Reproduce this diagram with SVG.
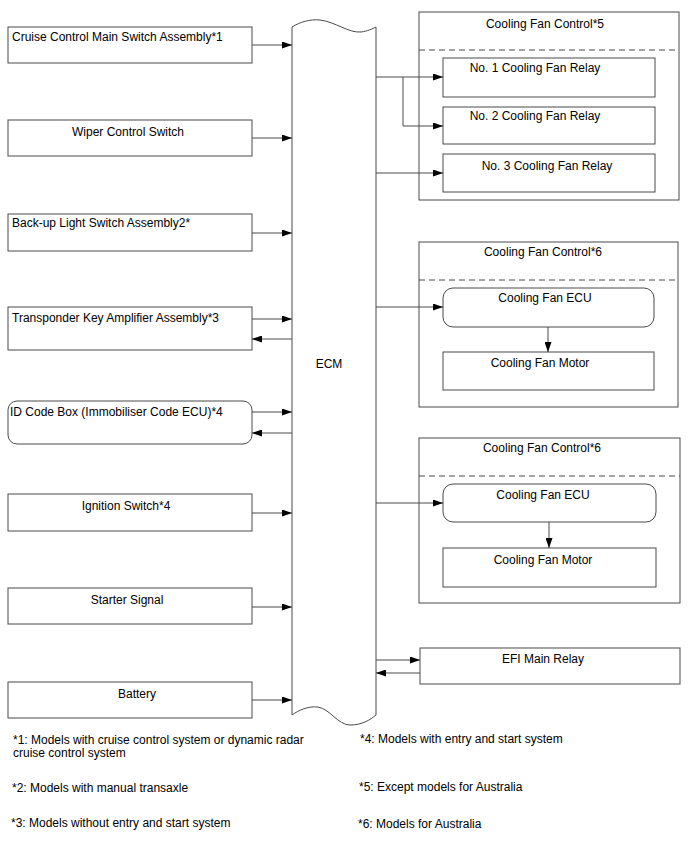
<svg xmlns="http://www.w3.org/2000/svg" width="688" height="852" viewBox="0 0 688 852">
<style>
.b{fill:#fff;stroke:#4a4a4a;stroke-width:1}
.d{fill:none;stroke:#4a4a4a;stroke-width:1;stroke-dasharray:6,4}
.l{fill:none;stroke:#4a4a4a;stroke-width:1}
.t{font-family:"Liberation Sans",Arial,sans-serif;font-size:12px;fill:#000}
.c{text-anchor:middle}
.f{font-family:"Liberation Sans",Arial,sans-serif;font-size:12px;fill:#000}
</style>
<defs>
<marker id="a" viewBox="0 0 10 8" refX="10" refY="4" markerWidth="10" markerHeight="7" markerUnits="userSpaceOnUse" orient="auto" preserveAspectRatio="none">
<path d="M0,0 L10,4 L0,8 Z" fill="#000"/>
</marker>
</defs>
<rect width="688" height="852" fill="#fff"/>

<g id="ecm">
<path class="b" d="M292,27 C300,22 310,19 320,20 C336,22 348,33 361,32 C368,31 372,29 376,27 L376,715 C370,720 362,725 350,725 C338,725 330,709 318,707 C308,706 299,710 292,715 Z"/>
<text class="t c" x="329" y="368">ECM</text>
</g>

<g id="cruise"><rect class="b" x="8" y="27" width="244" height="36"/><text class="t" x="12" y="41">Cruise Control Main Switch Assembly*1</text></g>
<g id="wiper"><rect class="b" x="8" y="120" width="244" height="36"/><text class="t c" x="128" y="136">Wiper Control Switch</text></g>
<g id="backup"><rect class="b" x="8" y="214" width="244" height="37"/><text class="t" x="12" y="227">Back-up Light Switch Assembly2*</text></g>
<g id="transponder"><rect class="b" x="8" y="307" width="244" height="43"/><text class="t" x="12" y="322">Transponder Key Amplifier Assembly*3</text></g>
<g id="idcode"><rect class="b" x="8" y="401" width="244" height="43" rx="9"/><text class="t" x="10" y="416">ID Code Box (Immobiliser Code ECU)*4</text></g>
<g id="ignition"><rect class="b" x="8" y="494" width="244" height="37"/><text class="t c" x="126" y="510">Ignition Switch*4</text></g>
<g id="starter"><rect class="b" x="8" y="588" width="244" height="36"/><text class="t c" x="127" y="604">Starter Signal</text></g>
<g id="battery"><rect class="b" x="8" y="682" width="244" height="36"/><text class="t c" x="137" y="698">Battery</text></g>

<g id="cfc5">
<rect class="b" x="419" y="12" width="260" height="188"/>
<line class="d" x1="419" y1="50" x2="679" y2="50"/>
<text class="t c" x="545" y="28">Cooling Fan Control*5</text>
</g>
<g id="relay1"><rect class="b" x="443" y="58" width="212" height="39"/><text class="t c" x="535" y="72">No. 1 Cooling Fan Relay</text></g>
<g id="relay2"><rect class="b" x="443" y="107" width="212" height="37"/><text class="t c" x="535" y="120">No. 2 Cooling Fan Relay</text></g>
<g id="relay3"><rect class="b" x="443" y="154" width="212" height="38"/><text class="t c" x="547" y="170">No. 3 Cooling Fan Relay</text></g>

<g id="cfc6a">
<rect class="b" x="419" y="242" width="259" height="165"/>
<line class="d" x1="419" y1="280" x2="678" y2="280"/>
<text class="t c" x="543" y="256">Cooling Fan Control*6</text>
</g>
<g id="ecu6a"><rect class="b" x="443" y="288" width="211" height="39" rx="10"/><text class="t c" x="545" y="302">Cooling Fan ECU</text></g>
<g id="motor6a"><rect class="b" x="443" y="352" width="211" height="38"/><text class="t c" x="540" y="367">Cooling Fan Motor</text></g>

<g id="cfc6b">
<rect class="b" x="419" y="438" width="261" height="165"/>
<line class="d" x1="419" y1="476" x2="680" y2="476"/>
<text class="t c" x="542" y="452">Cooling Fan Control*6</text>
</g>
<g id="ecu6b"><rect class="b" x="443" y="484" width="213" height="38" rx="10"/><text class="t c" x="543" y="499">Cooling Fan ECU</text></g>
<g id="motor6b"><rect class="b" x="443" y="548" width="213" height="39"/><text class="t c" x="543" y="564">Cooling Fan Motor</text></g>

<g id="efi"><rect class="b" x="420" y="648" width="260" height="36"/><text class="t c" x="543" y="663">EFI Main Relay</text></g>

<g id="connectors">
<line class="l" x1="252" y1="45" x2="292" y2="45" marker-end="url(#a)"/>
<line class="l" x1="252" y1="138" x2="292" y2="138" marker-end="url(#a)"/>
<line class="l" x1="252" y1="233" x2="292" y2="233" marker-end="url(#a)"/>
<line class="l" x1="252" y1="319" x2="292" y2="319" marker-end="url(#a)"/>
<line class="l" x1="292" y1="339" x2="252" y2="339" marker-end="url(#a)"/>
<line class="l" x1="252" y1="412" x2="292" y2="412" marker-end="url(#a)"/>
<line class="l" x1="292" y1="433" x2="252" y2="433" marker-end="url(#a)"/>
<line class="l" x1="252" y1="513" x2="292" y2="513" marker-end="url(#a)"/>
<line class="l" x1="252" y1="607" x2="292" y2="607" marker-end="url(#a)"/>
<line class="l" x1="252" y1="700" x2="292" y2="700" marker-end="url(#a)"/>
<line class="l" x1="376" y1="77" x2="443" y2="77" marker-end="url(#a)"/>
<polyline class="l" points="403,77 403,126 443,126" marker-end="url(#a)"/>
<line class="l" x1="376" y1="173" x2="443" y2="173" marker-end="url(#a)"/>
<line class="l" x1="376" y1="307" x2="443" y2="307" marker-end="url(#a)"/>
<line class="l" x1="548" y1="327" x2="548" y2="352" marker-end="url(#a)"/>
<line class="l" x1="376" y1="503" x2="443" y2="503" marker-end="url(#a)"/>
<line class="l" x1="549" y1="522" x2="549" y2="548" marker-end="url(#a)"/>
<line class="l" x1="376" y1="660" x2="420" y2="660" marker-end="url(#a)"/>
<line class="l" x1="420" y1="673" x2="376" y2="673" marker-end="url(#a)"/>
</g>

<g id="notes">
<text class="f" x="13" y="744">*1: Models with cruise control system or dynamic radar</text>
<text class="f" x="13" y="757">cruise control system</text>
<text class="f" x="12" y="792">*2: Models with manual transaxle</text>
<text class="f" x="11" y="827">*3: Models without entry and start system</text>
<text class="f" x="360" y="743">*4: Models with entry and start system</text>
<text class="f" x="359" y="791">*5: Except models for Australia</text>
<text class="f" x="358" y="828">*6: Models for Australia</text>
</g>
</svg>
